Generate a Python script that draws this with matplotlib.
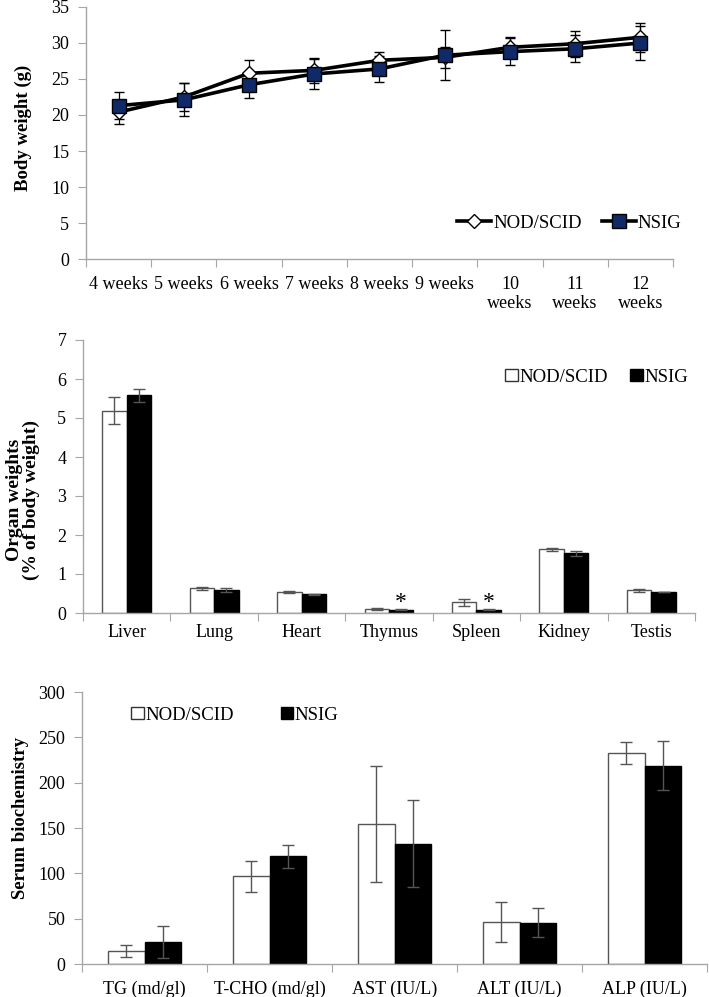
import matplotlib
matplotlib.use('Agg')
import matplotlib.pyplot as plt
from matplotlib.patches import Patch
from matplotlib.lines import Line2D
import numpy as np

plt.rcParams['font.family'] = ['Liberation Serif', 'DejaVu Serif']
plt.rcParams['font.size'] = 13

# ---- data ----
weeks = ['4 weeks', '5 weeks', '6 weeks', '7 weeks', '8 weeks', '9 weeks',
         '10\nweeks', '11\nweeks', '12\nweeks']
bw_nod = [20.4, 22.5, 25.8, 26.2, 27.6, 28.0, 29.4, 29.9, 30.8]
bw_nod_err = [1.7, 1.9, 1.8, 1.7, 1.1, 1.5, 1.5, 1.8, 2.0]
bw_nsig = [21.3, 22.1, 24.2, 25.7, 26.4, 28.3, 28.8, 29.2, 30.0]
bw_nsig_err = [1.9, 2.3, 1.8, 2.1, 1.8, 3.5, 1.9, 1.9, 2.3]

organs = ['Liver', 'Lung', 'Heart', 'Thymus', 'Spleen', 'Kidney', 'Testis']
org_nod = [5.19, 0.63, 0.54, 0.10, 0.27, 1.63, 0.58]
org_nod_err = [0.35, 0.04, 0.03, 0.02, 0.09, 0.04, 0.03]
org_nsig = [5.58, 0.58, 0.48, 0.08, 0.08, 1.53, 0.54]
org_nsig_err = [0.16, 0.05, 0.01, 0.01, 0.01, 0.07, 0.0]
org_star = ['Thymus', 'Spleen']

serum = ['TG (md/gl)', 'T-CHO (md/gl)', 'AST (IU/L)', 'ALT (IU/L)', 'ALP (IU/L)']
ser_nod = [14.7, 96.8, 154.0, 46.2, 232.8]
ser_nod_err = [6.6, 17.0, 64.0, 22.0, 12.5]
ser_nsig = [24.6, 118.8, 132.7, 45.5, 218.9]
ser_nsig_err = [17.6, 13.0, 48.0, 16.0, 27.0]

W, H = 709, 997
NAVY = '#0f2a66'
GREY = '#a6a6a6'
fig = plt.figure(figsize=(W/100, H/100), dpi=100)


def px_axes(l, r, t, b):
    return fig.add_axes([l/W, 1-b/H, (r-l)/W, (b-t)/H])


def style(ax, ncat, xpad=8):
    for s in ['top', 'right']:
        ax.spines[s].set_visible(False)
    for s in ['left', 'bottom']:
        ax.spines[s].set_color(GREY)
        ax.spines[s].set_linewidth(1.0)
    ax.set_xlim(0, ncat)
    ax.set_xticks(np.arange(ncat+1))
    ax.set_xticklabels([])
    ax.set_xticks(np.arange(ncat)+0.5, minor=True)
    ax.tick_params(axis='x', which='major', direction='out', length=6, color=GREY)
    ax.tick_params(axis='x', which='minor', length=0, pad=xpad)
    ax.tick_params(axis='y', direction='out', length=6, color=GREY, pad=6)


def ylabel_at(ax, text, xpix, ypix, size, **kw):
    # xpix = right edge of the rotated label, ypix = its centre, in figure pixels
    ax.set_ylabel(text, fontweight='bold', fontsize=size, **kw)
    ax.yaxis.set_label_coords(xpix/W, 1-ypix/H, transform=fig.transFigure)


##### body weight
ax1 = px_axes(86, 673, 7, 259)
style(ax1, len(weeks), xpad=12)
x = np.arange(len(weeks)) + 0.5
ax1.set_xticklabels(weeks, minor=True, linespacing=1.15, va='top')
ax1.set_ylim(0, 35)
ax1.set_yticks(np.arange(0, 36, 5))
ax1.errorbar(x, bw_nod, yerr=bw_nod_err, fmt='none', ecolor='black', elinewidth=0.9, capsize=3.5)
ax1.errorbar(x, bw_nsig, yerr=bw_nsig_err, fmt='none', ecolor='black', elinewidth=0.9, capsize=3.5)
ax1.plot(x, bw_nod, color='black', lw=2.6, marker='D', ms=7.5, mfc='white', mec='black', mew=1.0, zorder=3)
ax1.plot(x, bw_nsig, color='black', lw=2.6, marker='s', ms=10, mfc=NAVY, mec='black', mew=1.0, zorder=4)
ylabel_at(ax1, 'Body weight (g)', 32, 128, 13.5)
h1 = [Line2D([], [], color='black', lw=2.6, marker='D', ms=7.5, mfc='white', mec='black'),
      Line2D([], [], color='black', lw=2.6, marker='s', ms=10, mfc=NAVY, mec='black')]
ax1.legend(h1, ['NOD/SCID', 'NSIG'], ncol=2, frameon=False, loc='center left',
           bbox_to_anchor=(448/W, 1-223/H), bbox_transform=fig.transFigure,
           borderpad=0, handlelength=1.8, handletextpad=0.1, columnspacing=1.1,
           fontsize=13.5)


def bars(ax, cats, a, ae, b, be, width):
    xs = np.arange(len(cats)) + 0.5
    ax.bar(xs - width/2, a, width, color='white', edgecolor='#555555', lw=1.0)
    ax.bar(xs + width/2, b, width, color='black', edgecolor='black', lw=1.0)
    ax.errorbar(xs - width/2, a, yerr=ae, fmt='none', ecolor='#555555', elinewidth=1.0, capsize=4)
    ax.errorbar(xs + width/2, b, yerr=be, fmt='none', ecolor='#555555', elinewidth=1.0, capsize=4)
    ax.set_xticklabels(cats, minor=True)
    return xs


def bar_legend(ax, xpix, ypix, colspace):
    hh = [Patch(facecolor='white', edgecolor='#333333', lw=1.0),
          Patch(facecolor='black', edgecolor='black', lw=1.0)]
    ax.legend(hh, ['NOD/SCID', 'NSIG'], ncol=2, frameon=False, loc='center left',
              bbox_to_anchor=(xpix/W, 1-ypix/H), bbox_transform=fig.transFigure,
              borderpad=0, handlelength=0.65, handleheight=0.65, handletextpad=0.1,
              columnspacing=colspace, fontsize=13.5)


##### organ weights
ax2 = px_axes(83, 695, 340, 613)
style(ax2, len(organs))
xs = bars(ax2, organs, org_nod, org_nod_err, org_nsig, org_nsig_err, 0.28)
ax2.set_ylim(0, 7)
ax2.set_yticks(np.arange(0, 8, 1))
for name in org_star:
    i = organs.index(name)
    ax2.text(xs[i] + 0.14, org_nsig[i] + org_nsig_err[i] - 0.1, '*', ha='center', va='bottom', fontsize=17)
ylabel_at(ax2, 'Organ weights\n(% of body weight)', 40, 500, 14, linespacing=1.0)
bar_legend(ax2, 496, 377, 1.2)

##### serum biochemistry
ax3 = px_axes(82, 707, 692, 964)
style(ax3, len(serum), xpad=12)
bars(ax3, serum, ser_nod, ser_nod_err, ser_nsig, ser_nsig_err, 0.29)
ax3.set_ylim(0, 300)
ax3.set_yticks(np.arange(0, 301, 50))
ylabel_at(ax3, 'Serum biochemistry', 29, 818, 13.5)
bar_legend(ax3, 122, 715, 2.5)

fig.savefig('out.png', dpi=100)
